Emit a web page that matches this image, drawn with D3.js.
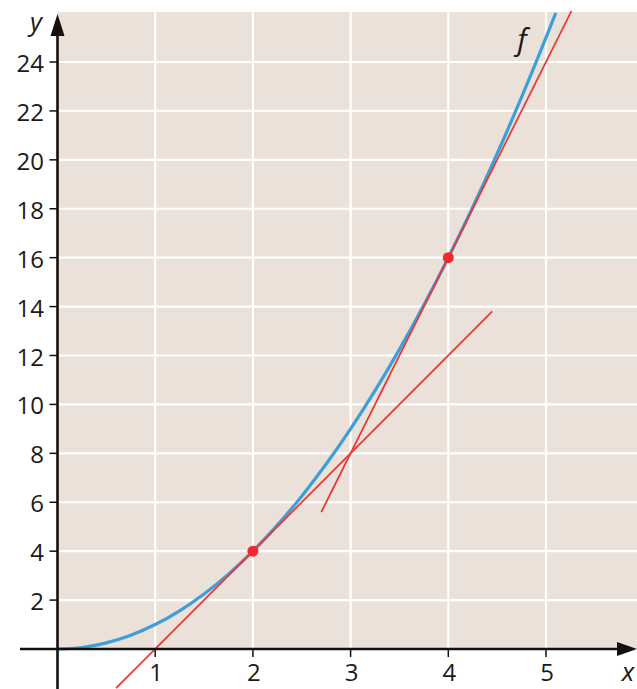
<!DOCTYPE html>
<html><head><meta charset="utf-8">
<script src="https://cdn.jsdelivr.net/npm/d3@7"></script>
<style>body{margin:0;background:#fff}svg{display:block}</style>
</head><body>
<script>
const xTicks = [1, 2, 3, 4, 5];
const yTicks = [2, 4, 6, 8, 10, 12, 14, 16, 18, 20, 22, 24];
// f(x) = x^2 sampled points
const curveX = [0, 0.25, 0.5, 0.75, 1, 1.25, 1.5, 1.75, 2, 2.25, 2.5, 2.75, 3, 3.25, 3.5, 3.75, 4, 4.25, 4.5, 4.75, 5, 5.1];
const curveY = [0, 0.0625, 0.25, 0.5625, 1, 1.5625, 2.25, 3.0625, 4, 5.0625, 6.25, 7.5625, 9, 10.5625, 12.25, 14.0625, 16, 18.0625, 20.25, 22.5625, 25, 26.01];
// tangent at x=2: y = 4x - 4 ; tangent at x=4: y = 8x - 16
const tangent1X = [0.6, 4.45];
const tangent1Y = [-1.6, 13.8];
const tangent2X = [2.7, 5.26];
const tangent2Y = [5.6, 26.08];
const pointsX = [2, 4];
const pointsY = [4, 16];

const W = 637, H = 689;
const svg = d3.select("body").append("svg").attr("width", W).attr("height", H);
const x = d3.scaleLinear().domain([0, 5]).range([57.5, 546]);
const y = d3.scaleLinear().domain([0, 24]).range([649, 62]);
const topY = 12, rightX = 637;

svg.append("rect").attr("x", x(0)).attr("y", topY).attr("width", rightX - x(0)).attr("height", y(0) - topY).attr("fill", "#ebe1d8");

svg.append("g").selectAll("line").data(xTicks).join("line")
  .attr("x1", d => x(d)).attr("x2", d => x(d)).attr("y1", topY).attr("y2", y(0))
  .attr("stroke", "#fff").attr("stroke-width", 2.2);
svg.append("g").selectAll("line").data(yTicks).join("line")
  .attr("x1", x(0)).attr("x2", rightX).attr("y1", d => y(d)).attr("y2", d => y(d))
  .attr("stroke", "#fff").attr("stroke-width", 2.2);

const lineGen = d3.line().x(d => x(d[0])).y(d => y(d[1]));
svg.append("path").datum(curveX.map((v, i) => [v, curveY[i]])).attr("d", lineGen.curve(d3.curveMonotoneX))
  .attr("fill", "none").attr("stroke", "#3ca0d8").attr("stroke-width", 3.2);
const lin = d3.line().x(d => x(d[0])).y(d => y(d[1]));
svg.append("path").datum(tangent1X.map((v, i) => [v, tangent1Y[i]])).attr("d", lin)
  .attr("fill", "none").attr("stroke", "#e8383a").attr("stroke-width", 1.8);
svg.append("path").datum(tangent2X.map((v, i) => [v, tangent2Y[i]])).attr("d", lin)
  .attr("fill", "none").attr("stroke", "#e8383a").attr("stroke-width", 1.8);

svg.append("g").selectAll("circle").data(pointsX).join("circle")
  .attr("cx", d => x(d)).attr("cy", (d, i) => y(pointsY[i])).attr("r", 5.5).attr("fill", "#ee2a2e");

// axes
const axisColor = "#111";
svg.append("line").attr("x1", 20).attr("x2", 622).attr("y1", y(0)).attr("y2", y(0)).attr("stroke", axisColor).attr("stroke-width", 2.6);
svg.append("line").attr("x1", x(0)).attr("x2", x(0)).attr("y1", H).attr("y2", 30).attr("stroke", axisColor).attr("stroke-width", 2.6);
svg.append("path").attr("d", `M${x(0)},14 L${x(0) - 7},36 L${x(0) + 7},36 Z`).attr("fill", axisColor);
svg.append("path").attr("d", `M637,${y(0)} L617,${y(0) - 7} L617,${y(0) + 7} Z`).attr("fill", axisColor);

// ticks
svg.append("g").selectAll("line").data(yTicks).join("line")
  .attr("x1", x(0) - 8).attr("x2", x(0)).attr("y1", d => y(d)).attr("y2", d => y(d)).attr("stroke", axisColor).attr("stroke-width", 1.5);
svg.append("g").selectAll("line").data(xTicks).join("line")
  .attr("x1", d => x(d)).attr("x2", d => x(d)).attr("y1", y(0)).attr("y2", y(0) + 8).attr("stroke", axisColor).attr("stroke-width", 1.5);

const font = "'Open Sans', sans-serif";
svg.append("g").selectAll("text").data(yTicks).join("text")
  .attr("x", 44).attr("y", d => y(d)).attr("dy", "0.42em").attr("text-anchor", "end")
  .attr("font-family", font).attr("font-size", 24).attr("fill", "#1a1a1a").text(d => d);
svg.append("g").selectAll("text").data(xTicks).join("text")
  .attr("x", d => x(d) + 1).attr("y", 681).attr("text-anchor", "middle")
  .attr("font-family", font).attr("font-size", 24).attr("fill", "#1a1a1a").text(d => d);

svg.append("text").attr("x", 36).attr("y", 31).attr("text-anchor", "middle").attr("font-family", font).attr("font-style", "italic").attr("font-size", 26).attr("fill", "#1a1a1a").text("y");
svg.append("text").attr("x", 628).attr("y", 681).attr("text-anchor", "middle").attr("font-family", font).attr("font-style", "italic").attr("font-size", 26).attr("fill", "#1a1a1a").text("x");
svg.append("text").attr("x", 522).attr("y", 50).attr("text-anchor", "middle").attr("font-family", font).attr("font-style", "italic").attr("font-size", 30).attr("fill", "#1a1a1a").text("f");
</script>
</body></html>
